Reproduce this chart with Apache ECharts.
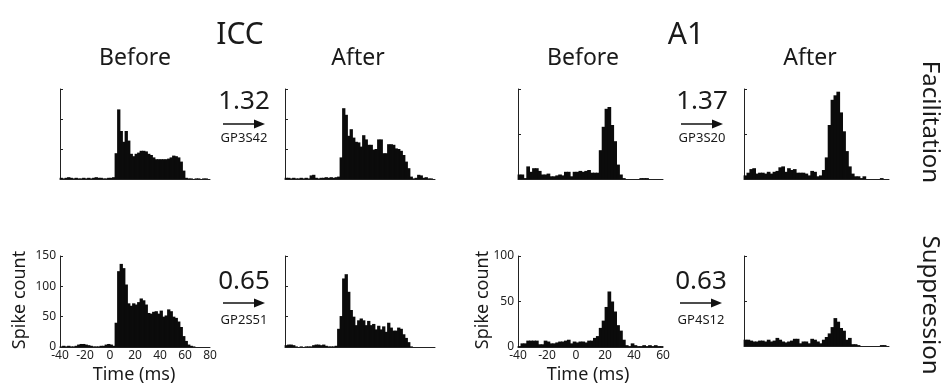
<!DOCTYPE html>
<html><head><meta charset="utf-8">
<script src="https://cdn.jsdelivr.net/npm/echarts@6/dist/echarts.min.js"></script>
<style>html,body{margin:0;padding:0;background:#fff}#c{width:946px;height:384px}</style>
</head><body><div id="c"></div>
<script>
// ---- data (spike counts per 2 ms bin, starting at -40 ms) ----
const binWidth = 2;
const binStart = -40;
const iccTicks = [-40, -20, 0, 20, 40, 60, 80];
const a1Ticks = [-40, -20, 0, 20, 40, 60];

const iccBeforeFacilitation = [2,1,2,3,2,1,2,1,1,2,1,2,1,2,3,2,2,1,1,2,2,3,
  43,116,80,62,80,64,42,38,42,44,47,47,46,42,40,36,33,33,33,33,33,34,36,39,38,36,29,14,2,
  1,1,0,1,1,0,1,1,0];
const iccAfterFacilitation = [2,2,1,2,1,1,2,1,2,1,6,7,2,1,2,2,3,2,3,2,3,4,
  36,118,107,72,83,69,62,61,54,73,66,57,57,49,50,66,66,43,43,58,58,57,51,50,47,40,29,18,4,
  1,2,7,6,2,3,1,1,0];
const iccBeforeSuppression = [1,2,1,2,1,1,2,4,5,5,4,3,2,1,1,1,2,2,4,5,4,2,
  40,125,137,130,103,72,68,72,70,74,80,77,70,56,55,58,59,55,60,50,52,62,59,50,48,42,33,18,10,4,
  2,1,0,0,0,0,0,0];
const iccAfterSuppression = [3,4,4,3,1,0,1,0,1,1,1,3,4,4,3,4,2,1,1,1,2,
  30,51,113,120,91,61,50,36,44,47,44,36,43,36,38,29,35,29,34,25,40,32,27,27,32,30,21,15,8,1,
  0,0,0,0,0,0,0,0,0];
const a1BeforeFacilitation = [5,5,1,14,8,12,12,9,5,5,6,3,3,4,5,4,8,8,3,8,8,9,8,9,10,7,7,7,
  32,58,78,80,60,42,16,5,1,
  0,0,0,0,0,1,1,1,0,0,0,0,0];
const a1AfterFacilitation = [4,7,11,12,6,7,7,6,8,6,8,9,13,14,8,12,10,11,7,7,7,6,4,9,8,3,4,10,
  24,60,88,93,97,74,53,31,14,6,3,3,1,3,0,0,0,0,0,1,0,0];
const a1BeforeSuppression = [1,4,4,7,7,7,7,3,3,7,6,4,4,5,6,6,7,8,4,6,5,6,6,5,7,7,10,12,
  21,29,44,61,50,39,24,18,8,2,1,4,2,1,1,2,1,2,1,2,1,1];
const a1AfterSuppression = [7,7,6,5,5,6,6,5,7,5,6,9,7,5,4,5,6,8,8,3,5,5,3,8,7,5,3,7,
  10,14,21,31,27,20,17,7,9,2,2,1,0,0,0,0,0,0,0,1,1,0];

const ratios = ['1.32', '1.37', '0.65', '0.63'];
const unitIds = ['GP3S42', 'GP3S20', 'GP2S51', 'GP4S12'];

// ---- layout ----
const FONT = '"Noto Sans", "Open Sans", sans-serif';
const panels = [
  {vals: iccBeforeFacilitation, grid: {left: 60, top: 89, width: 150, height: 90}, xMax: 80, yMax: 150, labels: false},
  {vals: iccAfterFacilitation,  grid: {left: 285, top: 89, width: 150, height: 90}, xMax: 80, yMax: 150, labels: false},
  {vals: iccBeforeSuppression,  grid: {left: 60, top: 256, width: 150, height: 91}, xMax: 80, yMax: 150, labels: true},
  {vals: iccAfterSuppression,   grid: {left: 285, top: 256, width: 150, height: 91}, xMax: 80, yMax: 150, labels: false},
  {vals: a1BeforeFacilitation,  grid: {left: 518, top: 89, width: 145, height: 90}, xMax: 60, yMax: 100, labels: false},
  {vals: a1AfterFacilitation,   grid: {left: 744, top: 89, width: 145, height: 90}, xMax: 60, yMax: 100, labels: false},
  {vals: a1BeforeSuppression,   grid: {left: 518, top: 256, width: 145, height: 91}, xMax: 60, yMax: 100, labels: true},
  {vals: a1AfterSuppression,    grid: {left: 744, top: 256, width: 145, height: 90}, xMax: 60, yMax: 100, labels: false}
];

const grids = [], xAxes = [], yAxes = [], series = [];
panels.forEach((p, k) => {
  grids.push(Object.assign({containLabel: false}, p.grid));
  xAxes.push({
    type: 'value', gridIndex: k, min: binStart, max: p.xMax, interval: 20,
    axisLine: {show: true, onZero: false, lineStyle: {color: '#222', width: 1}},
    axisTick: {show: false}, splitLine: {show: false},
    axisLabel: {show: p.labels, color: '#222', fontSize: 12, fontFamily: FONT, margin: 3}
  });
  yAxes.push({
    type: 'value', gridIndex: k, min: 0, max: p.yMax, interval: 50,
    axisLine: {show: true, onZero: false, lineStyle: {color: '#222', width: 1}},
    axisTick: {show: true, inside: true, length: 3, lineStyle: {color: '#222'}},
    splitLine: {show: false},
    axisLabel: {show: p.labels, color: '#222', fontSize: 12, fontFamily: FONT, margin: 4}
  });
  series.push({
    type: 'custom', xAxisIndex: k, yAxisIndex: k,
    data: p.vals.map((v, i) => [binStart + i * binWidth, v]),
    encode: {x: 0, y: 1},
    renderItem: function (params, api) {
      const x0 = api.value(0), v = api.value(1);
      const a = api.coord([x0, 0]);
      const b = api.coord([x0 + binWidth, v]);
      return {type: 'rect', shape: {x: a[0] - 0.4, y: b[1], width: b[0] - a[0] + 0.8, height: a[1] - b[1]},
              style: {fill: '#0b0b0b'}};
    }
  });
});

function txt(text, x, y, size, rot) {
  return {type: 'text', x: x, y: y, rotation: rot || 0,
    style: {text: text, x: 0, y: 0, font: size + 'px ' + FONT, fill: '#1a1a1a',
            textAlign: 'center', textVerticalAlign: 'middle'}};
}
function arrow(x1, x2, y) {
  return [
    {type: 'line', shape: {x1: x1, y1: y, x2: x2 - 8, y2: y}, style: {stroke: '#111', lineWidth: 1.6}},
    {type: 'polygon', shape: {points: [[x2, y], [x2 - 11, y - 4.5], [x2 - 11, y + 4.5]]}, style: {fill: '#111'}}
  ];
}

const g = [
  txt('ICC', 240, 35, 30), txt('A1', 686, 35, 30),
  txt('Before', 135, 58, 23), txt('After', 358, 58, 23),
  txt('Before', 583, 58, 23), txt('After', 810, 58, 23),
  txt('Facilitation', 930, 122, 24, -Math.PI / 2),
  txt('Suppression', 930, 305, 24, -Math.PI / 2),
  txt('Spike count', 20, 300, 18, Math.PI / 2),
  txt('Spike count', 483, 300, 18, Math.PI / 2),
  txt('Time (ms)', 134, 375, 18), txt('Time (ms)', 588, 375, 18)
];
const ratioPos = [[244, 102, 124, 138], [702, 102, 124, 138], [244, 282, 303, 320], [701, 282, 303, 320]];
ratioPos.forEach((r, k) => {
  g.push(txt(ratios[k], r[0], r[1], 26));
  arrow(r[0] - 21, r[0] + 21, r[2]).forEach(e => g.push(e));
  g.push(txt(unitIds[k], r[0], r[3], 13));
});

const chart = echarts.init(document.getElementById('c'), null, {renderer: 'canvas'});
chart.setOption({
  animation: false,
  backgroundColor: '#fff',
  grid: grids, xAxis: xAxes, yAxis: yAxes, series: series,
  graphic: {elements: g}
});
</script>
</body></html>
